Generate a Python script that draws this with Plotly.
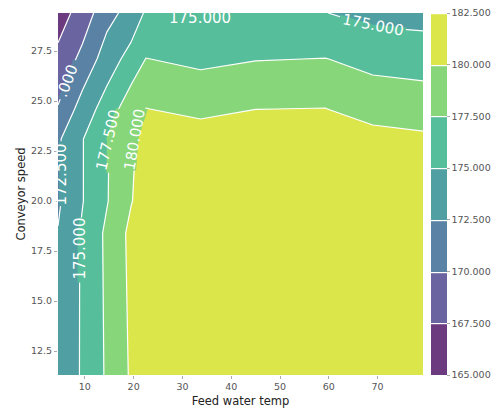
import math
import plotly.graph_objects as go

# ---- data ----
feed_water_temp = [4.5, 9.5, 14.5, 19.5, 22.5, 33.7, 45.0, 59.3, 69.0, 79.3]
conveyor_speed = [11.3, 18.4, 20.0, 23.1, 24.6, 27.1, 29.4]
row_11_3 = [172.8, 175.3, 177.8, 180.3, 181.0, 181.5, 181.6, 181.6, 181.5, 181.4]
row_18_4 = [172.6, 175.3, 177.95, 180.6, 181.1, 181.5, 181.6, 181.6, 181.5, 181.4]
row_20_0 = [172.15, 174.9, 177.35, 179.9, 181.0, 181.5, 181.6, 181.6, 181.5, 181.4]
row_23_1 = [172.15, 174.9, 177.3, 179.6, 180.9, 181.2, 181.4, 181.5, 181.0, 180.5]
row_24_6 = [170.16, 173.6, 176.1, 179.0, 180.05, 179.4, 179.98, 180.05, 178.86, 178.6]
row_27_1 = [168.15, 170.68, 173.71, 175.93, 177.55, 176.98, 177.4, 177.55, 176.86, 176.64]
row_29_4 = [166.3, 168.6, 171.64, 173.43, 175.31, 175.05, 175.02, 175.05, 174.19, 173.95]
level_start = 165.0
level_end = 182.5
level_step = 2.5
colorbar_ticks = [165.0, 167.5, 170.0, 172.5, 175.0, 177.5, 180.0, 182.5]
x_ticks = [10, 20, 30, 40, 50, 60, 70]
y_ticks = [12.5, 15.0, 17.5, 20.0, 22.5, 25.0, 27.5]

# contour labels as in the reference: text, x, y, angle
label_texts = ["175.000", "175.000", "177.500", "180.000", "172.500", "175.000", ".000"]
label_x = [33.66, 69.0, 14.75, 20.2, 5.14, 8.92, 6.44]
label_y = [29.13, 28.78, 23.05, 23.05, 21.33, 17.6, 25.99]
label_angle = [0, 11, -77, -80, -90, -90, -69]

z = [row_11_3, row_18_4, row_20_0, row_23_1, row_24_6, row_27_1, row_29_4]

band_colors = ["#6c3a7f", "#6a64a0", "#5a82a4", "#50a0a3", "#56be9b", "#88d67a", "#dbe64b"]
n_bands = len(band_colors)
colorscale = []
for j, c in enumerate(band_colors):
    colorscale.append([j / n_bands, c])
    colorscale.append([(j + 1) / n_bands, c])

# gaps in the contour lines under the labels (segments along the lines)
gap_segments = [
    (62.6, 29.19, 69.0, 28.70, band_colors[4]),
    (69.0, 28.70, 75.6, 28.57, band_colors[4]),
    (14.86, 21.5, 14.93, 23.1, band_colors[5]),
    (14.93, 23.1, 16.85, 24.55, band_colors[5]),
    (19.9, 21.6, 20.4, 23.1, band_colors[5]),
    (20.4, 23.1, 22.3, 24.55, band_colors[5]),
    (5.14, 19.8, 5.14, 22.9, band_colors[3]),
    (8.92, 16.0, 8.94, 18.4, band_colors[4]),
    (8.94, 18.4, 9.28, 19.1, band_colors[4]),
    (5.0, 25.12, 7.9, 26.96, band_colors[2]),
]

font_family = "DejaVu Sans"
tick_color = "#555555"
W, H = 496, 411
ML, MR, MT, MB = 58, 73, 13, 36
xr = [feed_water_temp[0], feed_water_temp[-1]]
yr = [conveyor_speed[0], conveyor_speed[-1]]
xs = (W - ML - MR) / (xr[1] - xr[0])
ys = (H - MT - MB) / (yr[1] - yr[0])

fig = go.Figure(
    go.Contour(
        x=feed_water_temp,
        y=conveyor_speed,
        z=z,
        colorscale=colorscale,
        zmin=level_start,
        zmax=level_end,
        autocontour=False,
        contours=dict(
            start=level_start,
            end=level_end,
            size=level_step,
            coloring="fill",
            showlabels=False,
        ),
        line=dict(color="white", width=1.2, smoothing=0),
        colorbar=dict(
            x=1.0,
            xanchor="left",
            xpad=8,
            y=0.5,
            yanchor="middle",
            len=1.0,
            lenmode="fraction",
            ypad=0,
            thickness=16,
            outlinewidth=0,
            tickmode="array",
            tickvals=colorbar_ticks,
            ticktext=[f"{v:.3f}" for v in colorbar_ticks],
            ticks="outside",
            ticklen=3,
            tickcolor="#aaaaaa",
            tickfont=dict(family=font_family, size=9.5, color=tick_color),
        ),
    )
)

annotations = []
for x0, y0, x1, y1, col in gap_segments:
    dx = (x1 - x0) * xs
    dy = (y1 - y0) * ys
    length = math.hypot(dx, dy) + 3
    ang = -math.degrees(math.atan2(dy, dx))
    annotations.append(dict(
        x=(x0 + x1) / 2, y=(y0 + y1) / 2, xref="x", yref="y",
        text=" ", showarrow=False, width=length, height=5,
        bgcolor=col, borderpad=0, borderwidth=0, textangle=ang,
        xanchor="center", yanchor="middle", font=dict(size=1),
    ))
for t, x, y, a in zip(label_texts, label_x, label_y, label_angle):
    annotations.append(dict(
        x=x, y=y, xref="x", yref="y", text=t, showarrow=False,
        textangle=a, xanchor="center", yanchor="middle",
        font=dict(family=font_family, size=15, color="white"),
    ))

fig.update_layout(
    width=W,
    height=H,
    margin=dict(l=ML, r=MR, t=MT, b=MB, autoexpand=False),
    paper_bgcolor="white",
    plot_bgcolor="white",
    font=dict(family=font_family, color="#222222"),
    annotations=annotations,
    xaxis=dict(
        title=dict(text="Feed water temp", font=dict(size=11.5, color="#222222"), standoff=5),
        range=xr,
        tickmode="array",
        tickvals=x_ticks,
        ticks="outside",
        ticklen=3,
        tickcolor="#aaaaaa",
        tickfont=dict(size=9.5, color=tick_color),
        showgrid=False,
        zeroline=False,
        showline=False,
    ),
    yaxis=dict(
        title=dict(text="Conveyor speed", font=dict(size=11.5, color="#222222"), standoff=2),
        range=yr,
        tickmode="array",
        tickvals=y_ticks,
        ticktext=[f"{v:.1f}" for v in y_ticks],
        ticks="outside",
        ticklen=3,
        tickcolor="#aaaaaa",
        tickfont=dict(size=9.5, color=tick_color),
        showgrid=False,
        zeroline=False,
        showline=False,
    ),
)

fig.write_html(
    "out.html",
    config={"displayModeBar": False},
    post_script="document.body.style.margin='0px';",
)
